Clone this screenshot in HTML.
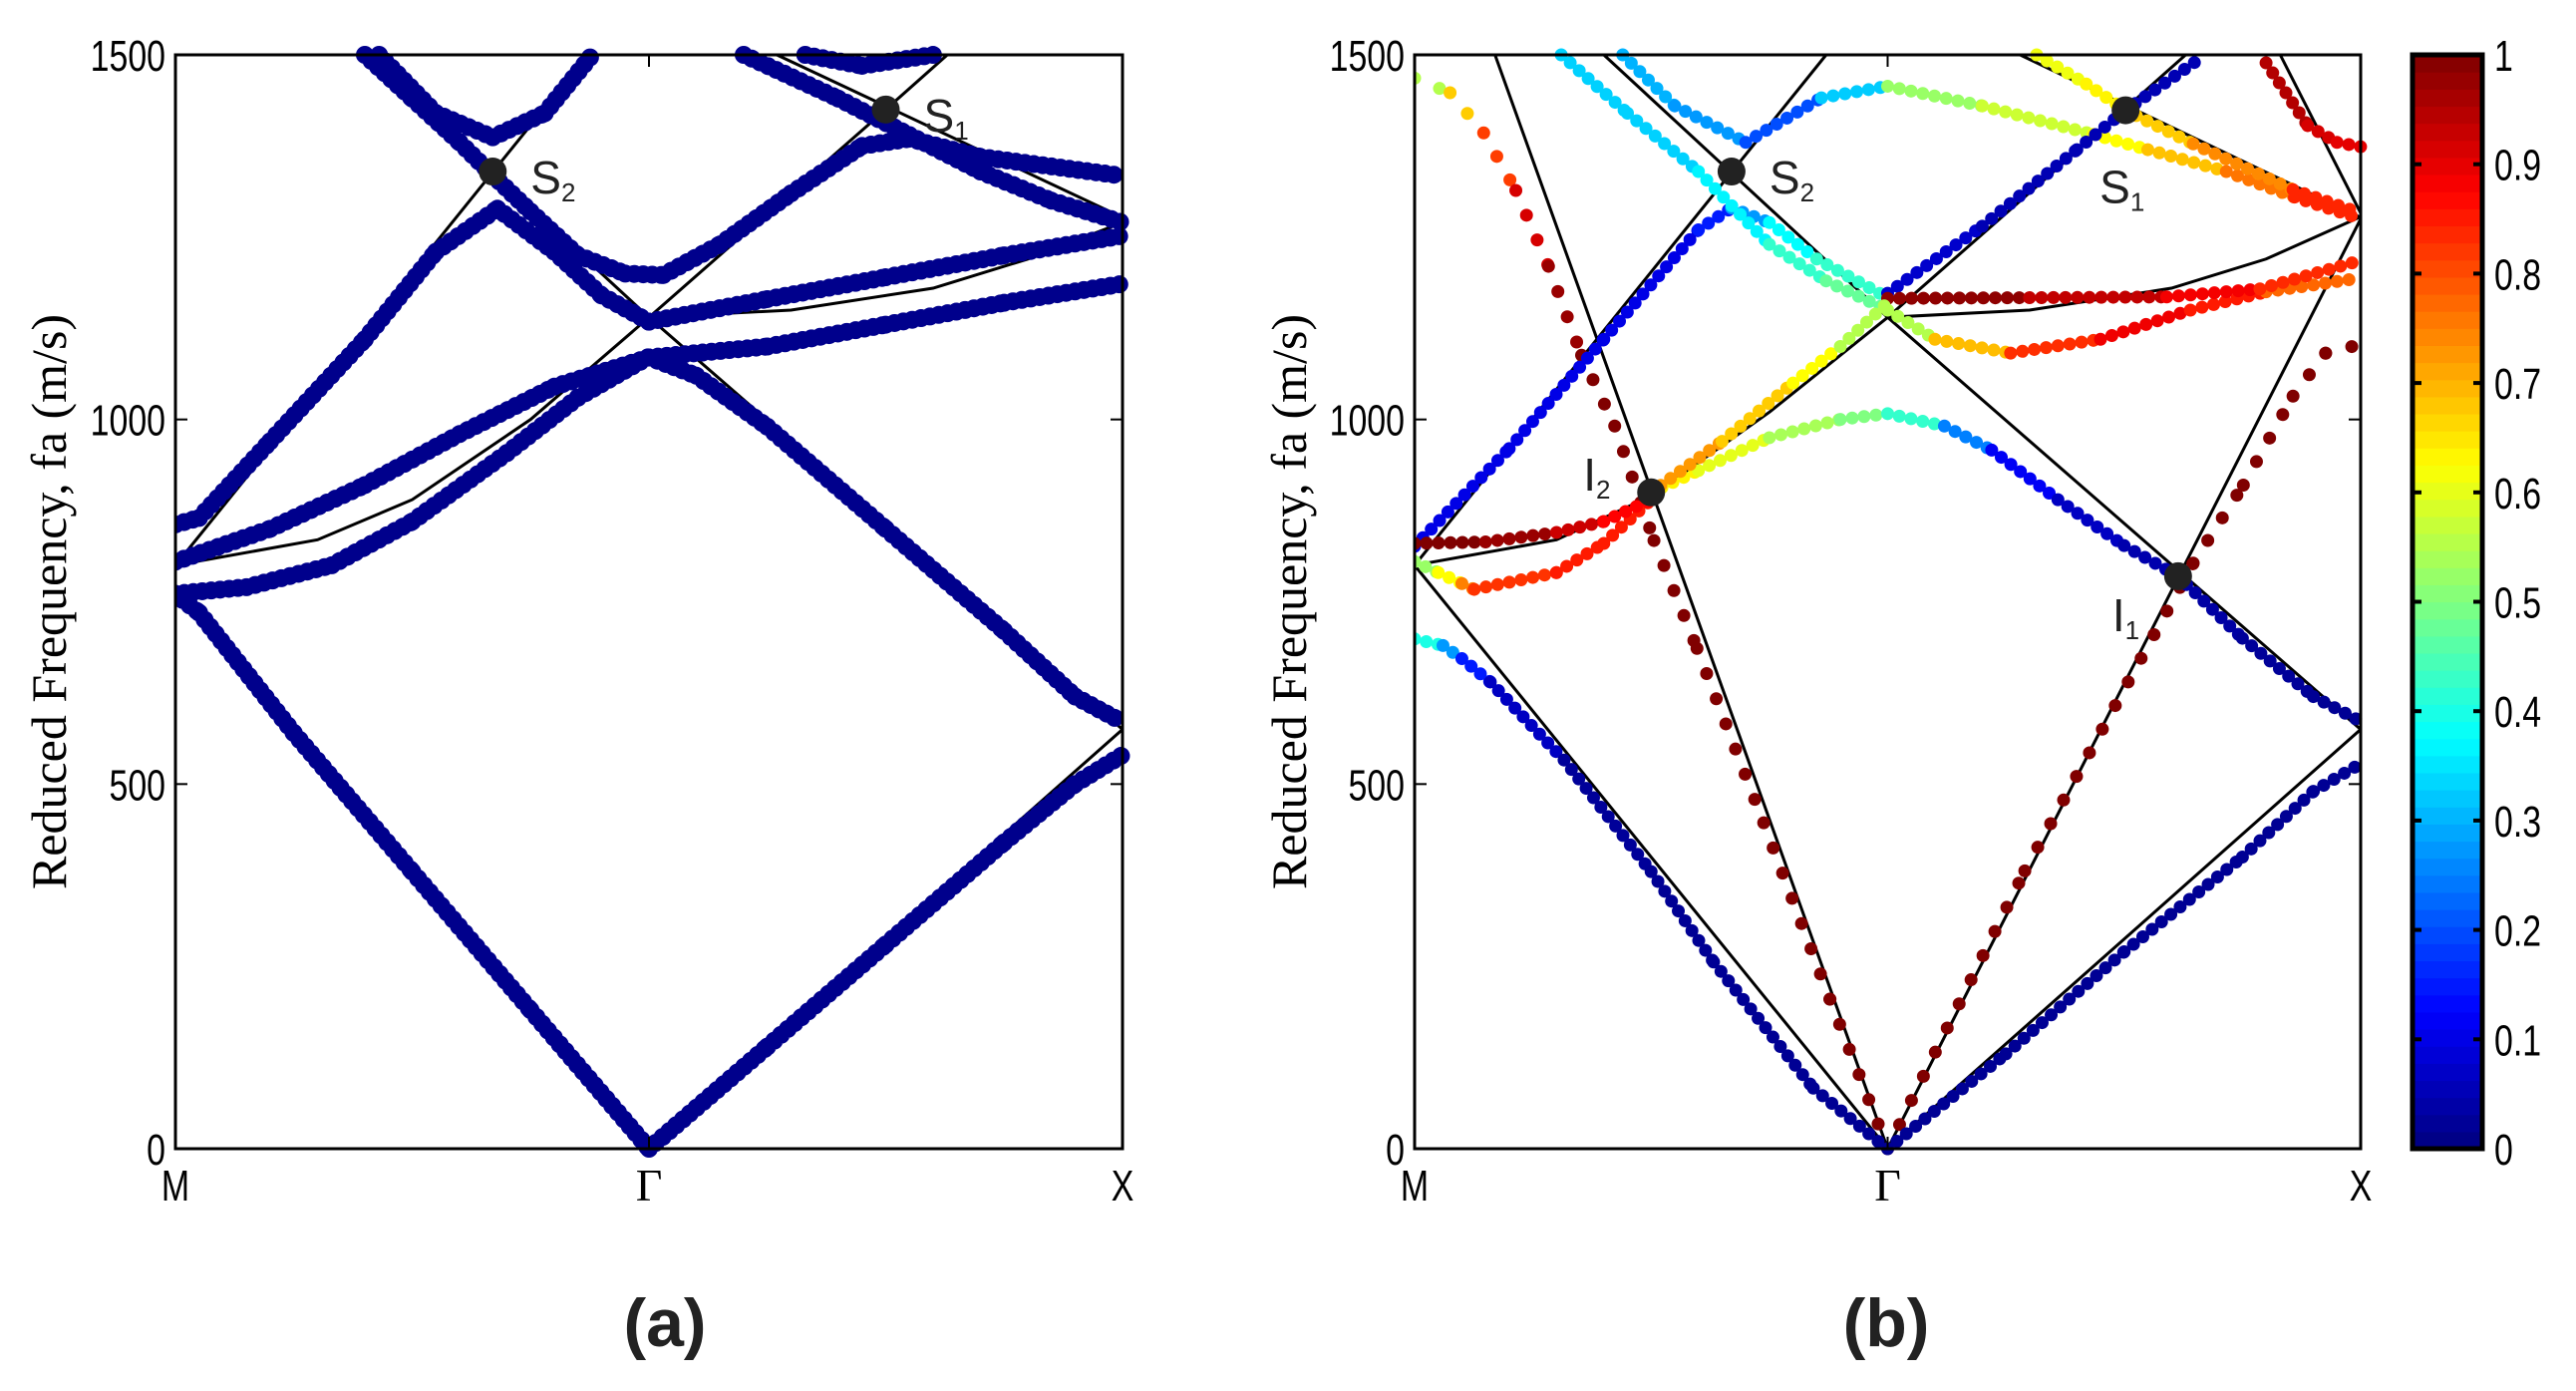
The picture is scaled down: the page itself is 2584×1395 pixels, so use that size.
<!DOCTYPE html>
<html><head><meta charset="utf-8"><style>
html,body{margin:0;padding:0;background:#fff;}
svg{display:block;}
.tk{font-family:"Liberation Sans",sans-serif;font-size:44px;fill:#000;}
.yl{font-family:"Liberation Serif",serif;font-size:50px;fill:#000;}
.pl{font-family:"Liberation Sans",sans-serif;font-size:68px;font-weight:bold;fill:#222;}
.an{font-family:"Liberation Sans",sans-serif;font-size:46px;fill:#222;}
</style></head><body>
<svg id="fig" width="2584" height="1395" viewBox="0 0 2584 1395" xmlns="http://www.w3.org/2000/svg">
<g id="gA"></g>
<g id="gB"></g>
<g id="gC"></g>
</svg>
<script>
// ---- data (k: 0=M, 1=Gamma, 2=X; value: reduced frequency) ----
const yTicks = [0, 500, 1000, 1500];
const xLabels = ["M", "Γ", "X"];
const cbTicks = [0, 0.1, 0.2, 0.3, 0.4, 0.5, 0.6, 0.7, 0.8, 0.9, 1];

// black empty-lattice lines [k, value]
const linesA = [
 [[0,800],[0.87,1500]],
 [[0.40,1500],[1,1140],[2,575]],
 [[0,760],[1,0]],
 [[1,0],[2,575]],
 [[0,800],[0.3,835],[0.5,890],[0.75,1000],[1,1140]],
 [[1,1140],[1.3,1150],[1.6,1180],[1.8,1220],[2,1270]],
 [[1,1140],[1.5,1425],[1.63,1500]],
 [[1.27,1500],[2,1277]]
];
const linesB = [
 [[0,800],[0.87,1500]],
 [[0.40,1500],[1,1140],[2,575]],
 [[0,800],[1,0]],
 [[1,0],[2,575]],
 [[0,800],[0.3,835],[0.5,895],[0.75,1010],[1,1140]],
 [[1,1140],[1.3,1150],[1.6,1180],[1.8,1220],[2,1278]],
 [[1,1140],[1.5,1425],[1.63,1500]],
 [[1.28,1500],[2,1277]],
 [[0.17,1500],[1,0]],
 [[1,0],[2,1275]],
 [[1.83,1500],[2,1283]]
];

// panel (a) blue branches [k, value]
const bandsA = [
 [[0,760],[0.05,735],[0.25,570],[0.5,380],[0.75,190],[1,0]],
 [[1,0],[1.25,140],[1.5,280],[1.75,420],[1.9,500],[2,540]],
 [[1,1085],[1.1,1060],[1.25,990],[1.5,850],[1.75,710],[1.9,620],[2,585]],
 [[0,761],[0.15,770],[0.33,800],[0.5,860],[0.7,954],[0.85,1030],[1,1086]],
 [[0,805],[0.2,850],[0.4,910],[0.6,980],[0.8,1045],[1,1085],[1.25,1100],[1.5,1130],[1.75,1160],[2,1186]],
 [[0,856],[0.05,865],[0.2,970],[0.4,1110],[0.55,1230],[0.68,1289],[0.8,1230],[0.9,1170],[1,1134],[1.25,1165],[1.5,1195],[1.75,1225],[2,1252]],
 [[0.4,1500],[0.5,1440],[0.6,1380],[0.67,1335],[0.75,1285],[0.85,1225],[0.95,1200],[1.03,1198],[1.15,1240],[1.3,1310],[1.45,1375],[1.55,1385],[1.7,1360],[2,1334]],
 [[0.43,1500],[0.55,1420],[0.67,1387],[0.78,1420],[0.88,1500]],
 [[1.2,1500],[1.4,1440],[1.55,1390],[1.7,1340],[1.85,1300],[2,1270]],
 [[1.33,1500],[1.45,1485],[1.6,1500]]
];

// panel (b) coloured branches [k, value, polarization]
const bandsB = [
 [[0,1468,.5],[0.075,1448,.6],[0.146,1393,.75],[0.214,1314,.88],[0.283,1210,.95],[0.353,1088,1],[0.423,991,1],[0.506,834,1],[0.597,686,1],[0.738,447,1],[0.878,205,1],[0.98,34,1],[1,5,1]],
 [[1,0,1],[1.29,381,1],[1.646,803,1],[1.752,910,1],[1.857,1032,1],[1.926,1091,1],[2,1103,1]],
 [[0,699,.45],[0.06,690,.35],[0.1,672,.2],[0.16,640,.1],[0.316,533,.03],[0.5,380,.02],[0.632,256,.02],[0.843,83,.02],[0.98,10,.02]],
 [[1,0,.02],[1.25,130,.02],[1.5,270,.02],[1.75,400,.02],[1.9,490,.02],[2,528,.02]],
 [[0,826,.1],[0.2,960,.1],[0.4,1110,.1],[0.6,1260,.1],[0.67,1290,.2],[0.75,1270,.35],[0.85,1220,.4],[1,1167,.45]],
 [[0.31,1500,.33],[0.45,1420,.33],[0.6,1340,.33],[0.75,1240,.4],[0.87,1190,.45],[1,1150,.5],[1.1,1110,.6],[1.26,1091,.78],[1.45,1110,.88],[1.64,1150,.9],[1.8,1175,.8],[2,1194,.75]],
 [[0.44,1500,.3],[0.55,1430,.3],[0.7,1380,.25],[0.86,1441,.15],[1,1457,.5],[1.2,1430,.55],[1.435,1391,.6],[1.55,1370,.65],[1.716,1340,.72],[1.86,1305,.8],[2,1275,.88]],
 [[1.315,1500,.6],[1.42,1460,.62],[1.503,1424,.65],[1.646,1378,.7],[1.857,1315,.78],[2,1283,.9]],
 [[1.8,1489,.97],[1.888,1403,.93],[1.95,1380,.9],[2,1374,.9]],
 [[1,1173,.1],[1.2,1265,.05],[1.4,1370,.05],[1.503,1424,.05],[1.663,1496,.05]],
 [[1,1166,1],[1.3,1167,.97],[1.59,1168,.9],[1.787,1179,.87],[2,1218,.8]],
 [[0.5,900,.65],[0.6,930,.62],[0.75,975,.58],[0.9,1000,.5],[1,1008,.5],[1.12,991,.35],[1.22,958,.15],[1.36,890,.08],[1.5,827,.05],[1.614,785,.04],[1.75,700,.03],[1.9,620,.02],[2,586,.02]],
 [[0.5,900,.75],[0.65,970,.7],[0.8,1050,.65],[0.9,1100,.6],[1,1160,.5]],
 [[0,805,.5],[0.05,790,.55],[0.1,775,.7],[0.126,767,.8],[0.3,790,.85],[0.4,830,.85],[0.5,890,.85]],
 [[0,830,1],[0.15,832,1],[0.3,845,.95],[0.4,860,.9],[0.5,890,.85]]
];
// dot spacing flag per panel-b band (1 = sparse dotted)
const sparseB = [1,1,0,0,0,0,0,0,0,0,0,0,0,0,0];

const markersA = [["S","2",0.67,1340,"r"],["S","1",1.5,1425,"r"]];
const markersB = [["S","2",0.67,1340,"r"],["S","1",1.503,1424,"b"],["I","2",0.5,900,"l"],["I","1",1.614,785,"bl"]];

// ---- rendering ----
const NS = "http://www.w3.org/2000/svg";
function el(tag, attrs, parent){ const e=document.createElementNS(NS,tag); for(const k in attrs) e.setAttribute(k,attrs[k]); parent.appendChild(e); return e; }
function jet(v){
  v=Math.max(0,Math.min(1,v));
  const r=Math.max(0,Math.min(1,1.5-Math.abs(4*v-3)));
  const g=Math.max(0,Math.min(1,1.5-Math.abs(4*v-2)));
  const b=Math.max(0,Math.min(1,1.5-Math.abs(4*v-1)));
  return `rgb(${Math.round(r*255)},${Math.round(g*255)},${Math.round(b*255)})`;
}
const TOP=55, BOT=1152;
function yS(v){ return BOT - v*(BOT-TOP)/1500; }

function panel(g, x0, x1, lines, bands, colored, markers, label, ylx, plx){
  const xS = k => x0 + k*(x1-x0)/2;
  const clipId = "clip"+label;
  const defs = el("defs",{},g);
  const cp = el("clipPath",{id:clipId},defs);
  el("rect",{x:x0,y:TOP-10,width:x1-x0+10,height:BOT-TOP+20},cp);
  const body = el("g",{"clip-path":`url(#${clipId})`},g);
  lines.forEach(l=>{
    const p = el("polyline",{points:l.map(q=>xS(q[0])+","+yS(q[1])).join(" "),fill:"none",stroke:"#000","stroke-width":3},body);
    
    
  });
  bands.forEach((b,bi)=>{
    const bg = el("g",{},body);
    
    
    const dash = colored ? (sparseB[bi] ? "0 27" : "0 12") : "0 9";
    for(let i=0;i<b.length-1;i++){
      const a=b[i], c=b[i+1];
      const col = colored ? jet((a[2]+c[2])/2) : "#00008c";
      el("line",{x1:xS(a[0]),y1:yS(a[1]),x2:xS(c[0]),y2:yS(c[1]),stroke:col,"stroke-width":colored?13:18,"stroke-linecap":"round","stroke-dasharray":dash},bg);
    }
  });
  const box = el("rect",{x:x0,y:TOP,width:x1-x0,height:BOT-TOP,fill:"none",stroke:"#000","stroke-width":3},g);
  
  
  yTicks.forEach(t=>{
    el("line",{x1:x0,x2:x0+12,y1:yS(t),y2:yS(t),stroke:"#000","stroke-width":2},g);
    el("line",{x1:x1,x2:x1-12,y1:yS(t),y2:yS(t),stroke:"#000","stroke-width":2},g);
    const tx = el("text",{x:x0-10,y:yS(t)+16,"text-anchor":"end",class:"tk",transform:`translate(${x0-10},0) scale(0.77,1) translate(${-(x0-10)},0)`},g);
    tx.textContent = t;
    
    
  });
  xLabels.forEach((s,i)=>{
    const x = xS(i);
    el("line",{x1:x,x2:x,y1:TOP,y2:TOP+12,stroke:"#000","stroke-width":2},g);
    el("line",{x1:x,x2:x,y1:BOT,y2:BOT-12,stroke:"#000","stroke-width":2},g);
    const tx = el("text",{x:x,y:1204,"text-anchor":"middle",class:i==1?"yl":"tk",transform:`translate(${x},0) scale(${i==1?1:0.77},1) translate(${-x},0)`},g);
    if(i==1) tx.setAttribute("style","font-size:46px");
    tx.textContent = s;
    
    
  });
  markers.forEach(m=>{
    const cx=xS(m[2]), cy=yS(m[3]);
    const c = el("circle",{cx:cx,cy:cy,r:14,fill:"#222"},g);
    
    
    let lx=cx+38, ly=cy+22;
    if(m[4]=="b"){ lx=cx-26; ly=cy+93; }
    if(m[4]=="bl"){ lx=cx-66; ly=cy+55; }
    if(m[4]=="l"){ lx=cx-68; ly=cy-2; }
    const t = el("text",{x:lx,y:ly,class:"an"},g);
    t.innerHTML = m[0]+'<tspan style="font-size:26px" dy="8">'+m[1]+'</tspan>';
    
    
  });
  const yl = el("text",{x:0,y:0,"text-anchor":"middle",class:"yl",transform:`translate(${ylx},${(TOP+BOT)/2}) rotate(-90)`},g);
  yl.textContent = "Reduced Frequency, fa (m/s)";
  
  
  const pl = el("text",{x:plx,y:1350,"text-anchor":"middle",class:"pl"},g);
  pl.textContent = "("+label+")";
  
  
}
panel(document.getElementById("gA"),176,1126,linesA,bandsA,false,markersA,"a",66,667);
panel(document.getElementById("gB"),1419,2368,linesB,bandsB,true,markersB,"b",1310,1892);

// colorbar
(function(){
  const g=document.getElementById("gC");
  const cx0=2420, cx1=2490;
  const n=64, h=(BOT-TOP)/n;
  for(let i=0;i<n;i++){
    el("rect",{x:cx0,y:BOT-(i+1)*h,width:cx1-cx0,height:h+0.6,fill:jet((i+0.5)/n)},g);
  }
  const r=el("rect",{x:cx0,y:TOP,width:cx1-cx0,height:BOT-TOP,fill:"none",stroke:"#000","stroke-width":5},g);
  
  
  cbTicks.forEach(t=>{
    const y=BOT-t*(BOT-TOP);
    el("line",{x1:cx0,x2:cx0+9,y1:y,y2:y,stroke:"#000","stroke-width":4},g);
    el("line",{x1:cx1,x2:cx1-9,y1:y,y2:y,stroke:"#000","stroke-width":4},g);
    const tx=el("text",{x:2502,y:y+16,class:"tk",transform:`translate(2502,0) scale(0.77,1) translate(-2502,0)`},g);
    tx.textContent = t;
    
    
  });
})();
</script>
</body></html>
